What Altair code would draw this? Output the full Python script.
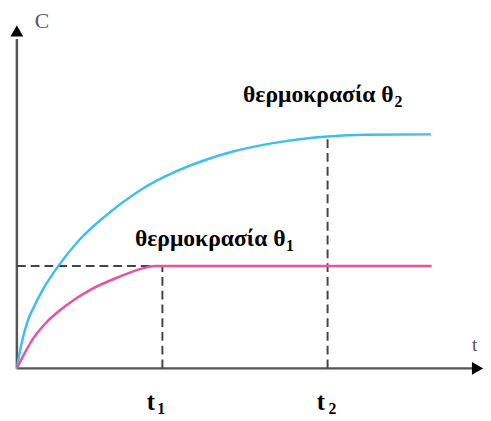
import altair as alt
import pandas as pd

# curve samples (t in units of t1, C in units of the θ1 plateau)
blue_t = [0, 0.03, 0.074, 0.12, 0.182, 0.284, 0.432, 0.601, 0.845, 1.101, 1.30, 1.486, 1.75, 2.0, 2.135, 2.4, 2.845]
blue_c = [0, 0.23, 0.462, 0.61, 0.779, 1.00, 1.26, 1.481, 1.74, 1.93, 2.04, 2.12, 2.20, 2.25, 2.268, 2.285, 2.288]
pink_t = [0, 0.05, 0.115, 0.203, 0.338, 0.507, 0.703, 0.858, 0.95, 2.85]
pink_c = [0, 0.14, 0.298, 0.45, 0.615, 0.77, 0.895, 0.975, 1.00, 1.00]

t1, t2 = 1.0, 2.135
c1, c2 = 1.0, 2.288

W, H = 483, 413
xs = alt.Scale(domain=[-0.061, 3.203], nice=False, zero=False)
ys = alt.Scale(domain=[-0.481, 3.490], nice=False, zero=False)


def X(f="t"):
    return alt.X(f, type="quantitative", scale=xs, axis=None)


def Y(f="c"):
    return alt.Y(f, type="quantitative", scale=ys, axis=None)


AX = "#555555"
DASH = "#444444"

# axes lines
axes_df = pd.DataFrame({"t": [0, 0], "t2": [0, 3.13], "c": [0, 0], "c2": [3.22, 0]})
axes = alt.Chart(axes_df).mark_rule(color=AX, strokeWidth=2.5).encode(
    x=X("t"), x2="t2", y=Y("c"), y2="c2"
)

# arrows
arr_up = alt.Chart(pd.DataFrame({"t": [0], "c": [3.3]})).mark_point(
    shape="triangle-up", filled=True, color="black", size=170, opacity=1
).encode(x=X(), y=Y())
arr_right = alt.Chart(pd.DataFrame({"t": [3.165], "c": [0]})).mark_point(
    shape="triangle-right", filled=True, color="black", size=170, opacity=1
).encode(x=X(), y=Y())

# dashed guides
dash_df = pd.DataFrame({
    "t": [0, t1, t2],
    "t2": [0.92, t1, t2],
    "c": [c1, 0, 0],
    "c2": [c1, c1, c2],
})
dashes = alt.Chart(dash_df).mark_rule(color=DASH, strokeWidth=2, strokeDash=[9, 5]).encode(
    x=X("t"), x2="t2", y=Y("c"), y2="c2"
)

blue = alt.Chart(pd.DataFrame({"t": blue_t, "c": blue_c})).mark_line(
    color="#3dbfee", strokeWidth=2.5, interpolate="monotone"
).encode(x=X(), y=Y())
pink = alt.Chart(pd.DataFrame({"t": pink_t, "c": pink_c})).mark_line(
    color="#ee4f9f", strokeWidth=2.5, interpolate="monotone"
).encode(x=X(), y=Y())

SERIF = "Liberation Serif"


def txt(t, c, s, size, weight="bold", color="black"):
    return alt.Chart(pd.DataFrame({"t": [t], "c": [c], "s": [s]})).mark_text(
        align="left", baseline="alphabetic", font=SERIF, fontSize=size,
        fontWeight=weight, color=color
    ).encode(x=X(), y=Y(), text="s:N")


texts = [
    txt(0.122, 3.325, "C", 22, "normal", AX),
    txt(3.128, 0.173, "t", 20, "normal", AX),
    txt(1.554, 2.606, "θερμοκρασία θ", 24),
    txt(2.595, 2.56, "2", 16),
    txt(0.811, 1.192, "θερμοκρασία θ", 24),
    txt(1.85, 1.15, "1", 16),
    txt(0.892, -0.404, "t", 25),
    txt(0.965, -0.442, "1", 16),
    txt(2.061, -0.404, "t", 25),
    txt(2.142, -0.442, "2", 16),
]

chart = alt.layer(axes, dashes, blue, pink, arr_up, arr_right, *texts).properties(
    width=W, height=H, padding=0, autosize=alt.AutoSizeParams(type="none")
).configure_view(stroke=None)

chart.save("out.html", embed_options={"renderer": "svg", "actions": False})
